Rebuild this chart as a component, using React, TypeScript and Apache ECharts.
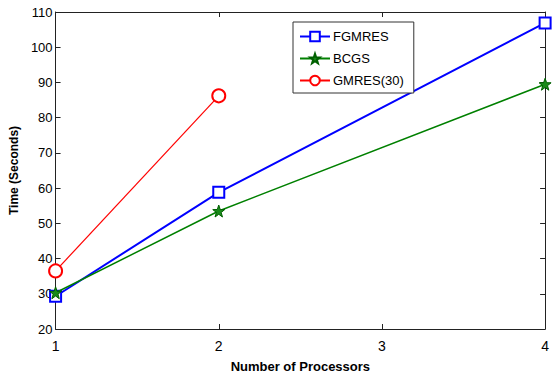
import React, { useEffect, useRef } from "react";
import * as echarts from "echarts";

const processors = [1, 2, 4];
const fgmres = [29.3, 58.8, 106.9];
const bcgs = [30.3, 53.5, 89.5];
const gmres30 = [36.5, 86.2];
const seriesNames = ["FGMRES", "BCGS", "GMRES(30)"];

const STAR =
  "path://M0,-10 L2.35,-3.24 L9.51,-3.09 L3.8,1.24 L5.88,8.09 L0,4 L-5.88,8.09 L-3.8,1.24 L-9.51,-3.09 L-2.35,-3.24 Z";

const font = "Liberation Sans";

export default function App() {
  const ref = useRef<HTMLDivElement>(null);
  useEffect(() => {
    if (!ref.current) return;
    const chart = echarts.init(ref.current, null, { renderer: "svg" });
    const pts = (xs: number[], ys: number[]) => ys.map((y, i) => [xs[i], y]);
    const axisCommon = {
      axisLine: { show: true, lineStyle: { color: "#222", width: 1 } },
      axisTick: { show: true, inside: true, length: 5, lineStyle: { color: "#222" } },
      splitLine: { show: false },
    };
    chart.setOption({
      animation: false,
      backgroundColor: "#fff",
      textStyle: { fontFamily: font },
      grid: { left: 52, right: 5, top: 12, bottom: 42, containLabel: false },
      legend: {
        orient: "vertical",
        left: 293,
        top: 22,
        width: 120,
        data: seriesNames,
        backgroundColor: "#fff",
        borderColor: "#333",
        borderWidth: 1,
        padding: [8, 10, 6, 6],
        itemGap: 9,
        itemWidth: 30,
        itemHeight: 12,
        textStyle: { fontFamily: font, fontSize: 13, color: "#000", padding: [0, 0, 0, -2] },
      },
      xAxis: [
        {
          type: "value",
          min: 1,
          max: 4,
          interval: 1,
          position: "bottom",
          name: "Number of Processors",
          nameLocation: "middle",
          nameGap: 31,
          nameTextStyle: { fontFamily: font, fontSize: 13, fontWeight: "bold", color: "#000" },
          axisLabel: { fontFamily: font, fontSize: 14, color: "#000", margin: 10 },
          ...axisCommon,
        },
        {
          type: "value",
          min: 1,
          max: 4,
          interval: 1,
          position: "top",
          axisLabel: { show: false },
          ...axisCommon,
        },
      ],
      yAxis: [
        {
          type: "value",
          min: 20,
          max: 110,
          interval: 10,
          position: "left",
          name: "Time (Seconds)",
          nameLocation: "middle",
          nameGap: 34,
          nameRotate: 90,
          nameTextStyle: { fontFamily: font, fontSize: 12, fontWeight: "bold", color: "#000" },
          axisLabel: { fontFamily: font, fontSize: 13, color: "#000", margin: 3 },
          ...axisCommon,
        },
        {
          type: "value",
          min: 20,
          max: 110,
          interval: 10,
          position: "right",
          axisLabel: { show: false },
          ...axisCommon,
        },
      ],
      series: [
        {
          name: seriesNames[0],
          type: "line",
          data: pts(processors, fgmres),
          symbol: "emptyRect",
          symbolSize: 11,
          color: "#0000ff",
          lineStyle: { width: 2, color: "#0000ff" },
          itemStyle: { color: "#0000ff", borderWidth: 1.5 },
          z: 3,
        },
        {
          name: seriesNames[1],
          type: "line",
          data: pts(processors, bcgs),
          symbol: STAR,
          symbolSize: 12,
          color: "#008000",
          lineStyle: { width: 1.5, color: "#008000" },
          itemStyle: { color: "#1a8a1a", borderColor: "#006000", borderWidth: 1 },
          z: 4,
        },
        {
          name: seriesNames[2],
          type: "line",
          data: pts(processors, gmres30),
          symbol: "emptyCircle",
          symbolSize: 13,
          color: "#ff0000",
          lineStyle: { width: 1.2, color: "#ff0000" },
          itemStyle: { color: "#ff0000", borderWidth: 1.3 },
          z: 5,
        },
      ],
    });
    return () => chart.dispose();
  }, []);
  return <div ref={ref} style={{ width: 552, height: 378, position: "absolute", left: 0, top: 0 }} />;
}
